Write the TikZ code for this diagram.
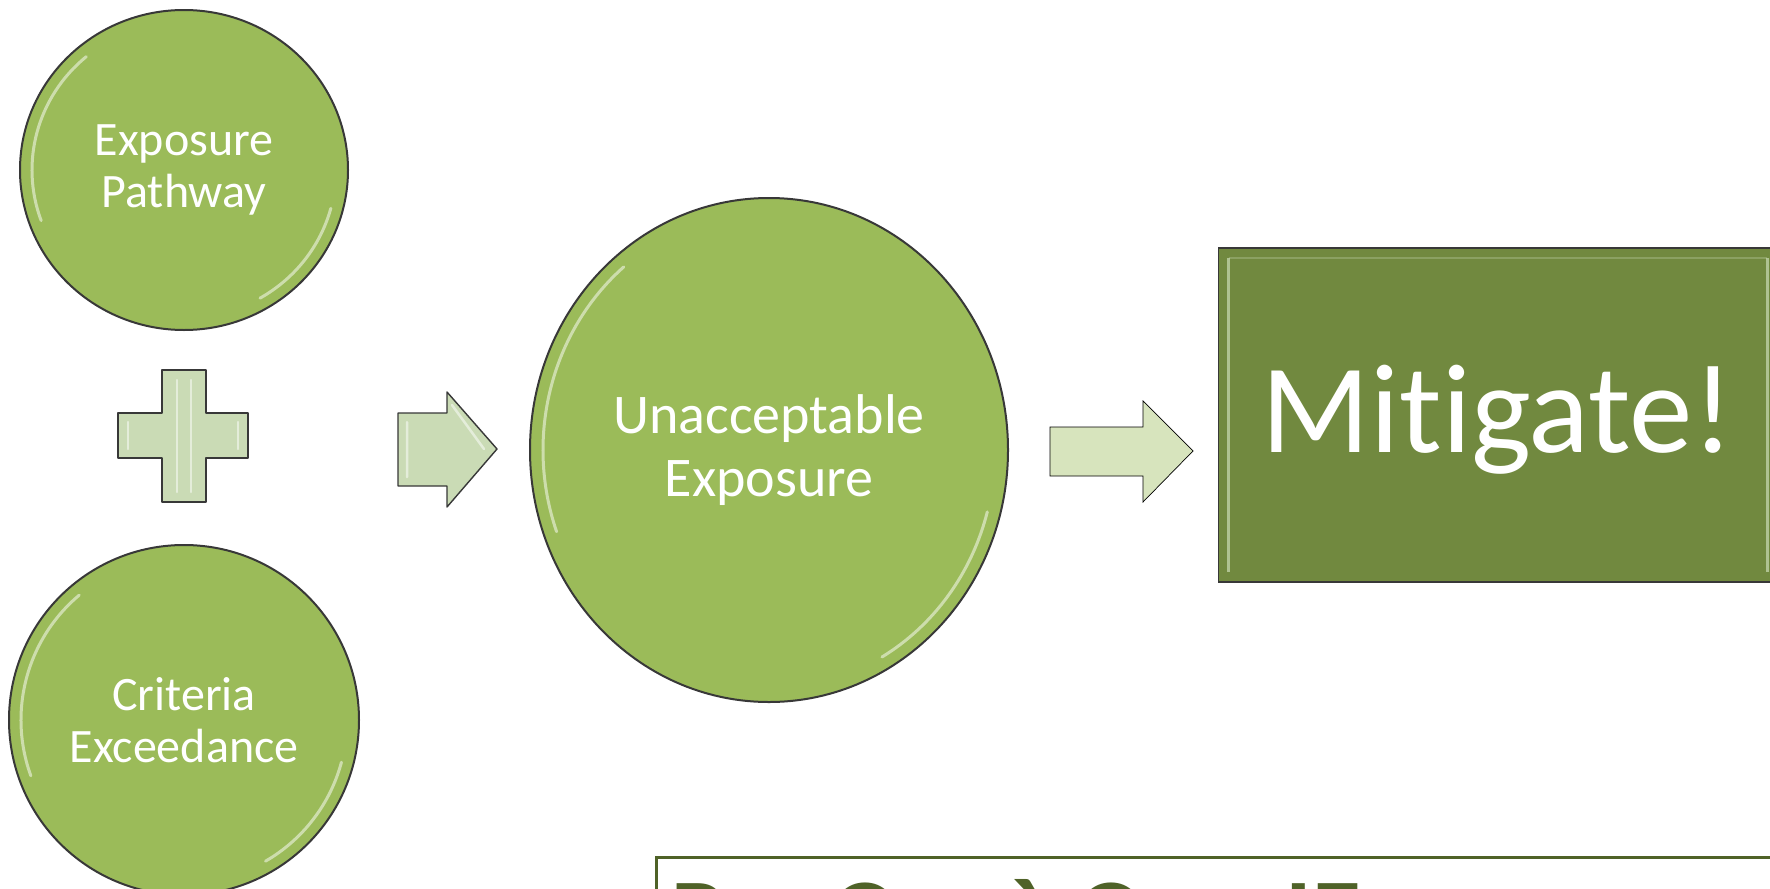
\documentclass[tikz,border=0pt]{standalone}
\usepackage{fontspec}
\setmainfont{Carlito}[Ligatures=CommonOff]
\usetikzlibrary{shapes.geometric}
\definecolor{olivefill}{HTML}{9BBB59}
\definecolor{olivedark}{HTML}{71893F}
\definecolor{olivedeep}{HTML}{4F6228}
\definecolor{palegreen}{HTML}{CADBB5}
\definecolor{palergreen}{HTML}{D7E4BD}
\definecolor{rimgray}{HTML}{383838}
\begin{document}
\begin{tikzpicture}[x=1pt,y=-1pt,
    disc/.style={ellipse,draw=rimgray,line width=2pt,fill=olivefill,text=white,align=center,inner sep=0pt},
    smalltext/.style={font=\fontsize{48}{52}\selectfont},
    bigtext/.style={font=\fontsize{56}{63}\selectfont},
    block/.style={draw=rimgray,line width=1.4pt,line join=round,fill=palegreen},
    thinblock/.style={draw=black,line width=0.7pt,fill=palergreen},
    gleam/.style={white,opacity=0.5,line width=3pt,line cap=round},
    mitbox/.style={rectangle,draw=rimgray,line width=1.6pt,fill=olivedark,text=white,inner sep=0pt,
      font=\fontsize{127}{130}\selectfont,text height=99pt,text depth=25pt},
    notebox/.style={rectangle,draw=olivedeep,line width=2.5pt,fill=white,inner sep=0pt}]
  \useasboundingbox (0,0) rectangle (1770,889);
  \clip (0,0) rectangle (1770,889);
  \fill[white] (0,0) rectangle (1770,889);
  \draw
    (184,170) node[disc,smalltext,minimum width=328,minimum height=320] (path){Exposure\\Pathway}
    (184,720) node[disc,smalltext,minimum width=350,minimum height=350] (crit){Criteria\\Exceedance}
    (769,450) node[disc,bigtext,minimum width=478,minimum height=504] (unacc){Unacceptable\\Exposure}
    (1498,415) node[mitbox,minimum width=559,minimum height=334] (mit){Mitigate!};
  \draw[gleam] (path.center) ++(160:152 and 148) arc[start angle=160,end angle=230,x radius=152,y radius=148];
  \draw[gleam] (path.center) ++(15:152 and 148) arc[start angle=15,end angle=60,x radius=152,y radius=148];
  \draw[gleam] (crit.center) ++(160:163 and 163) arc[start angle=160,end angle=230,x radius=163,y radius=163];
  \draw[gleam] (crit.center) ++(15:163 and 163) arc[start angle=15,end angle=60,x radius=163,y radius=163];
  \draw[gleam] (unacc.center) ++(160:226 and 239) arc[start angle=160,end angle=230,x radius=226,y radius=239];
  \draw[gleam] (unacc.center) ++(15:226 and 239) arc[start angle=15,end angle=60,x radius=226,y radius=239];
  \draw[palegreen,opacity=0.7,line width=3pt] ([shift={(11,11)}]mit.north west) -- ([shift={(11,-11)}]mit.south west);
  \draw[palegreen,opacity=0.7,line width=3pt] ([shift={(-11,11)}]mit.north east) -- ([shift={(-11,-11)}]mit.south east);
  \draw[palegreen,opacity=0.3,line width=2pt] ([shift={(11,11)}]mit.north west) -- ([shift={(-11,11)}]mit.north east);
  \draw[block] (162,370) -- (206,370) -- (206,413) -- (248,413) -- (248,458) -- (206,458) -- (206,502)
    -- (162,502) -- (162,458) -- (118,458) -- (118,413) -- (162,413) -- cycle;
  \draw[gleam,line width=2.5pt] (177,380) -- (177,492) (191,380) -- (191,492);
  \draw[gleam,line width=2.5pt] (128,422) -- (128,449) (238,422) -- (238,449);
  \draw[block] (398,413) -- (447,413) -- (447,392) -- (497,449) -- (447,507) -- (447,486) -- (398,486) -- cycle;
  \draw[gleam,line width=2.5pt] (407,422) -- (407,477) (452,405) -- (484,449);
  \draw[thinblock] (1050,427) -- (1143,427) -- (1143,401) -- (1193,451) -- (1143,502) -- (1143,476) -- (1050,476) -- cycle;
  \node[notebox,anchor=north west,minimum width=1160,minimum height=150] (note) at (655,856) {};
  \node[anchor=base west,text=olivedeep,font=\fontsize{100}{110}\selectfont\bfseries,inner sep=0pt] (notetext)
    at (671,948) {Pre Occ à Occ. IE};
\end{tikzpicture}
\end{document}
